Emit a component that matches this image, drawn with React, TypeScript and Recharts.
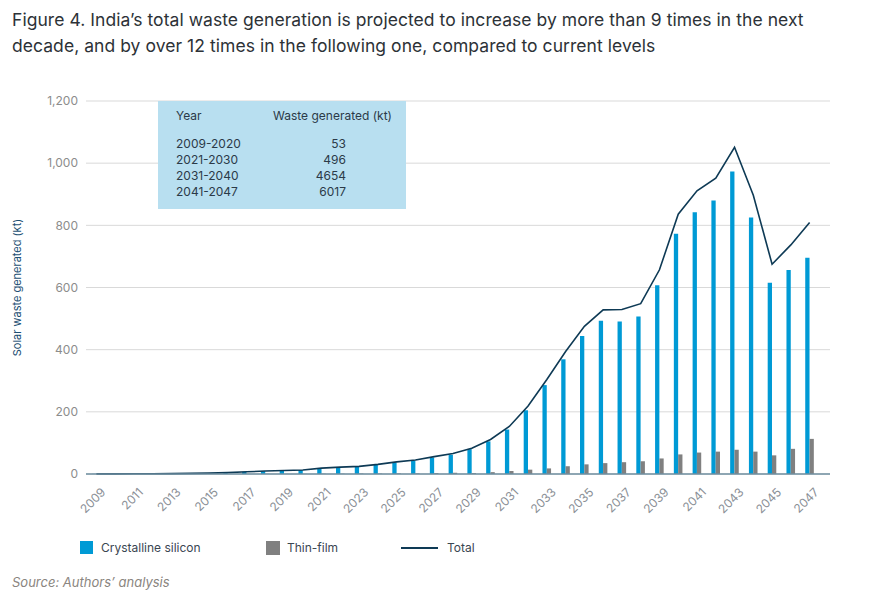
import React from 'react';
import { ComposedChart, Bar, Line, XAxis, YAxis, CartesianGrid } from 'recharts';

const years = [
  '2009', '2010', '2011', '2012', '2013', '2014', '2015', '2016', '2017', '2018',
  '2019', '2020', '2021', '2022', '2023', '2024', '2025', '2026', '2027', '2028',
  '2029', '2030', '2031', '2032', '2033', '2034', '2035', '2036', '2037', '2038',
  '2039', '2040', '2041', '2042', '2043', '2044', '2045', '2046', '2047',
];

// kt per year
const crystalline = [
  0.3, 0.4, 0.6, 0.9, 1.2, 1.8, 2.7, 4.3, 6.7, 9.1,
  11.1, 12.6, 18, 21, 23, 29.5, 37, 43, 53, 62,
  80, 105, 143, 205, 286, 369, 444, 493, 491, 507,
  607, 773, 842, 880, 973, 825, 615, 656, 696,
];
const thinFilm = [
  0, 0, 0, 0, 0.1, 0.1, 0.1, 0.2, 0.3, 0.4,
  0.4, 0.4, 1, 1, 1.5, 1.5, 2, 2, 3, 4,
  3, 6, 10, 14, 18, 25, 31, 35, 38, 41,
  50, 63, 69, 72, 78, 72, 60, 81, 113,
];
const total = [
  0.3, 0.4, 0.6, 0.9, 1.3, 1.9, 2.8, 4.5, 7, 9.5,
  11.5, 13, 19, 22, 24.5, 31, 39, 45, 56, 66,
  83, 111, 153, 219, 304, 394, 475, 528, 529, 548,
  657, 836, 911, 952, 1051, 897, 675, 737, 809,
];

const yTicks = [0, 200, 400, 600, 800, 1000, 1200];

const tableRows = [
  ['2009-2020', '53'],
  ['2021-2030', '496'],
  ['2031-2040', '4654'],
  ['2041-2047', '6017'],
];

const BLUE = '#009ad5';
const GREY = '#808080';
const NAVY = '#0e3a55';
const FONT = 'Inter, "Noto Sans", sans-serif';

const chartData = years.map((year, i) => ({
  year,
  cs: crystalline[i],
  tf: thinFilm[i],
  total: total[i],
}));

const YearTick = (props: any) => {
  const { x, y, payload } = props;
  return (
    <g transform={`translate(${x + 7},${y + 8}) rotate(-45)`}>
      <text x={0} y={0} dy="0.35em" textAnchor="end" fill="#8a8f96" fontSize={12} fontFamily={FONT}>
        {payload.value}
      </text>
    </g>
  );
};

const App: React.FC = () => {
  return (
    <div style={{ position: 'absolute', left: 0, top: 0, width: 870, height: 597, background: '#fff', fontFamily: FONT }}>
      <div
        style={{
          position: 'absolute',
          left: 12,
          top: 7,
          width: 858,
          fontSize: 17.5,
          letterSpacing: 0.05,
          lineHeight: '26px',
          color: '#2d3237',
          whiteSpace: 'nowrap',
        }}
      >
        Figure 4. India’s total waste generation is projected to increase by more than 9 times in the next
        <br />
        decade, and by over 12 times in the following one, compared to current levels
      </div>

      <div style={{ position: 'absolute', left: 0, top: 0 }}>
        <ComposedChart
          width={870}
          height={520}
          data={chartData}
          margin={{ top: 101, right: 40, left: 6, bottom: 6 }}
          barGap={0}
          barSize={4.3}
        >
          <CartesianGrid vertical={false} stroke="#d9d9d9" />
          <XAxis
            dataKey="year"
            interval={1}
            tickLine={false}
            axisLine={{ stroke: '#6f8fa0', strokeWidth: 1.5 }}
            height={40}
            padding={{ left: 1, right: 11 }}
            tick={<YearTick />}
          />
          <YAxis
            width={80}
            domain={[0, 1200]}
            ticks={yTicks}
            axisLine={false}
            tickLine={false}
            tick={{ fill: '#8c8c8c', fontSize: 12, fontFamily: FONT }}
            tickFormatter={(v: number) => v.toLocaleString('en-US')}
            label={{
              value: 'Solar waste generated (kt)',
              angle: -90,
              position: 'center',
              dx: -29,
              fill: '#1d4f73',
              fontSize: 11,
              fontFamily: FONT,
            }}
          />
          <Bar dataKey="cs" fill={BLUE} isAnimationActive={false} />
          <Bar dataKey="tf" fill={GREY} isAnimationActive={false} />
          <Line
            type="linear"
            dataKey="total"
            stroke={NAVY}
            strokeWidth={1.6}
            dot={false}
            activeDot={false}
            isAnimationActive={false}
          />
        </ComposedChart>
      </div>

      <div
        style={{
          position: 'absolute',
          left: 158,
          top: 101,
          width: 248,
          height: 108,
          background: '#b8dff0',
          color: '#2b3a48',
          fontSize: 12,
        }}
      >
        <div style={{ position: 'absolute', left: 18, top: 7 }}>Year</div>
        <div style={{ position: 'absolute', left: 115, top: 7 }}>Waste generated (kt)</div>
        {tableRows.map((r, i) => (
          <React.Fragment key={r[0]}>
            <div style={{ position: 'absolute', left: 18, top: 35 + i * 16 }}>{r[0]}</div>
            <div style={{ position: 'absolute', right: 60, top: 35 + i * 16 }}>{r[1]}</div>
          </React.Fragment>
        ))}
      </div>

      <div style={{ position: 'absolute', left: 80, top: 540, fontSize: 12, color: '#3a4652', height: 16 }}>
        <span style={{ position: 'absolute', left: 0, top: 1, width: 13, height: 13, background: BLUE }} />
        <span style={{ position: 'absolute', left: 21, top: 0, whiteSpace: 'nowrap' }}>Crystalline silicon</span>
        <span style={{ position: 'absolute', left: 186, top: 1, width: 14, height: 14, background: GREY }} />
        <span style={{ position: 'absolute', left: 207, top: 0, whiteSpace: 'nowrap' }}>Thin-film</span>
        <span style={{ position: 'absolute', left: 321, top: 7, width: 37, height: 2, background: NAVY }} />
        <span style={{ position: 'absolute', left: 367, top: 0, whiteSpace: 'nowrap' }}>Total</span>
      </div>

      <div style={{ position: 'absolute', left: 12, top: 574, fontSize: 13, fontStyle: 'italic', color: '#8a8580' }}>
        Source: Authors’ analysis
      </div>
    </div>
  );
};

export default App;
